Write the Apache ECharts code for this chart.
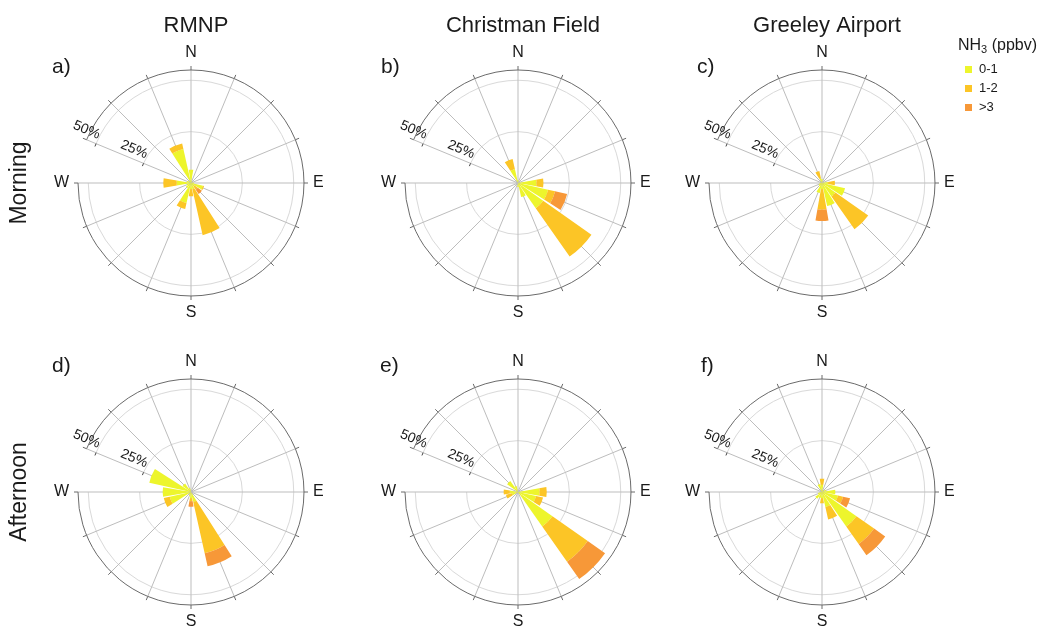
<!DOCTYPE html>
<html>
<head>
<meta charset="utf-8">
<script src="https://cdn.jsdelivr.net/npm/echarts@6/dist/echarts.min.js"></script>
<style>
  html, body { margin: 0; padding: 0; background: #fff; }
  #chart { width: 1047px; height: 628px; }
</style>
</head>
<body>
<div id="chart"></div>
<script>
// 16 compass sectors, clockwise from north
const directions = ['N','NNE','NE','ENE','E','ESE','SE','SSE','S','SSW','SW','WSW','W','WNW','NW','NNW'];
const cardinalLabels = ['N','E','S','W'];
const classNames = ['0-1', '1-2', '>3'];
const classColors = ['#EDF52C', '#FCC526', '#F79838'];
const sites = ['RMNP', 'Christman Field', 'Greeley Airport'];
const periods = ['Morning', 'Afternoon'];
const panelLetters = ['a)', 'b)', 'c)', 'd)', 'e)', 'f)'];
const radiusTicks = [25, 50];
const radiusMax = 55;

// Frequency of wind direction (%) split by NH3 class; order follows `directions`
//                      N   NNE NE ENE  E    ESE  SE   SSE  S    SSW  SW  WSW  W    WNW  NW  NNW
const rmnpMorningLow  = [6.5, 1, 0, 0, 1.5, 6,   2,   3,   3,   10,  3,  2,   7,   2,   0,  17];
const rmnpMorningMid  = [0,   0, 0, 0, 0,   0.5, 2,   23,  3.5, 3,   0,  0,   6.5, 0,   0,  2.7];
const rmnpMorningHigh = [0,   0, 0, 0, 0,   0,   2.5, 0,   0,   0,   0,  0,   0,   0,   0,  0];

const cfMorningLow    = [1.5, 0, 0, 0, 9,   15,  15,  7,   2,   0,   0,  0,   0,   0,   0,  7];
const cfMorningMid    = [0,   0, 0, 0, 3.4, 3.5, 28.7,0,   0,   0,   0,  0,   0,   0,   0,  5];
const cfMorningHigh   = [0,   0, 0, 0, 0,   6,   0,   0,   0,   0,   0,  0,   0,   0,   0,  0];

const gaMorningLow    = [2,   0, 0, 0, 3,   11.5,8,   11.5,3,   5,   2,  1.5, 1,   0,   0,  2.5];
const gaMorningMid    = [0,   0, 0, 0, 3.3, 0,   19.5,0,   10,  0,   0,  0,   0,   0,   0,  3.5];
const gaMorningHigh   = [0,   0, 0, 0, 0,   0,   0,   0,   5.5, 0,   0,  0,   0,   0,   0,  0];

const rmnpAfternoonLow  = [0, 0, 0, 0, 0,   0,   0,   5,   3,   2,   0,  10.6,13.8,20.8,5,  2];
const rmnpAfternoonMid  = [0, 0, 0, 0, 0,   0,   0,   25.5,1.5, 0,   0,  3,   0,   0,   0,  0];
const rmnpAfternoonHigh = [0, 0, 0, 0, 0,   0,   0,   6.5, 2.7, 0,   0,  0,   0,   0,   0,  0];

const cfAfternoonLow    = [0, 0, 0, 0, 10.5,9,   20.5,0,   0,   0,   0,  3,   4,   0,   6.5,3];
const cfAfternoonMid    = [0, 0, 0, 0, 3.5, 3.5, 21,  0,   0,   0,   0,  3,   3,   0,   0,  0];
const cfAfternoonHigh   = [0, 0, 0, 0, 0,   0,   10.3,0,   0,   0,   0,  0,   0,   0,   0,  0];

const gaAfternoonLow    = [3.5, 1, 0, 2, 6.5, 8,   20.5,7.5, 3,   3,   4,  2,   1,   0,   0,  4];
const gaAfternoonMid    = [3,   0, 0, 0, 0,   2.5, 10.5,6.2, 2.5, 0,   0,  0,   0,   0,   0,  0];
const gaAfternoonHigh   = [0,   0, 0, 0, 0,   3.5, 6.6, 0,   0,   0,   0,  0,   0,   0,   0,  0];

const panels = [
  [rmnpMorningLow, rmnpMorningMid, rmnpMorningHigh],
  [cfMorningLow, cfMorningMid, cfMorningHigh],
  [gaMorningLow, gaMorningMid, gaMorningHigh],
  [rmnpAfternoonLow, rmnpAfternoonMid, rmnpAfternoonHigh],
  [cfAfternoonLow, cfAfternoonMid, cfAfternoonHigh],
  [gaAfternoonLow, gaAfternoonMid, gaAfternoonHigh]
];

// layout
const FONT = 'Liberation Sans, Arial, sans-serif';
const colX = [191, 518, 822];
const rowY = [183, 492];
const roseRadius = 113;

// The radius axis is drawn along the first category, so the sector list
// starts at WNW (where the % labels sit) and runs clockwise from there.
const firstSector = directions.indexOf('WNW');
const rotate = arr => arr.slice(firstSector).concat(arr.slice(0, firstSector));
const orderedDirections = rotate(directions);
const startAngle = 90 + (360 - firstSector * 22.5); // 157.5 deg for WNW

const polar = [], angleAxis = [], radiusAxis = [], series = [];
panels.forEach((classes, i) => {
  const cx = colX[i % 3], cy = rowY[Math.floor(i / 3)];
  polar.push({ center: [cx, cy], radius: [0, roseRadius] });
  angleAxis.push({
    polarIndex: i,
    type: 'category',
    data: orderedDirections,
    boundaryGap: false,
    startAngle: startAngle % 360,
    clockwise: true,
    axisLine: { show: true, lineStyle: { color: '#6b6b6b', width: 1 } },
    axisTick: { show: true, inside: false, length: 4, interval: 0, lineStyle: { color: '#6b6b6b' } },
    axisLabel: {
      interval: 0,
      margin: 9,
      fontSize: 16,
      fontFamily: FONT,
      color: '#1a1a1a',
      formatter: v => cardinalLabels.includes(v) ? v : ''
    },
    splitLine: { show: true, interval: 0, lineStyle: { color: '#bdbdbd', width: 1 } }
  });
  radiusAxis.push({
    polarIndex: i,
    type: 'value',
    min: 0,
    max: radiusMax,
    interval: 25,
    axisLine: { show: false },
    axisTick: { show: true, length: 3, customValues: radiusTicks, lineStyle: { color: '#444' } },
    axisLabel: {
      customValues: radiusTicks,
      formatter: '{value}%',
      rotate: -22.5,
      align: 'right',
      verticalAlign: 'bottom',
      margin: 2,
      padding: [0, 0, 4, 0],
      fontSize: 14,
      fontFamily: FONT,
      color: '#1a1a1a'
    },
    splitLine: { show: true, lineStyle: { color: '#d9d9d9', width: 1 } }
  });
  classes.forEach((vals, k) => {
    series.push({
      type: 'bar',
      coordinateSystem: 'polar',
      polarIndex: i,
      name: classNames[k],
      stack: 'rose' + i,
      data: rotate(vals),
      barCategoryGap: '12%',
      itemStyle: { color: classColors[k] },
      silent: true,
      animation: false
    });
  });
});

const titles = sites.map((s, j) => ({
  text: s,
  left: colX[j],
  top: 10,
  textAlign: 'center',
  textStyle: { fontSize: 22, fontWeight: 'normal', color: '#1a1a1a', fontFamily: FONT }
}));

const letterPos = [[52, 57], [381, 57], [697, 57], [52, 356], [380, 356], [701, 356]];
const graphics = panelLetters.map((t, i) => ({
  type: 'text',
  left: letterPos[i][0],
  top: letterPos[i][1],
  style: { text: t, fill: '#1a1a1a', font: '21px ' + FONT }
}));
periods.forEach((p, r) => {
  graphics.push({
    type: 'text',
    x: 20,
    y: rowY[r],
    rotation: Math.PI / 2,
    style: { text: p, font: '23px ' + FONT, fill: '#1a1a1a', align: 'center', verticalAlign: 'middle' }
  });
});
graphics.push({
  type: 'text',
  left: 958,
  top: 38,
  style: {
    text: 'NH{sub|3} (ppbv)',
    font: '16px ' + FONT,
    fill: '#1a1a1a',
    rich: { sub: { font: '11px ' + FONT, verticalAlign: 'bottom', padding: [7, 0, 0, 0], fill: '#1a1a1a' } }
  }
});

const chart = echarts.init(document.getElementById('chart'), null, { renderer: 'canvas' });
chart.setOption({
  animation: false,
  backgroundColor: '#fff',
  title: titles,
  polar,
  angleAxis,
  radiusAxis,
  series,
  legend: {
    data: classNames,
    orient: 'vertical',
    left: 960,
    top: 58,
    icon: 'rect',
    itemWidth: 7,
    itemHeight: 7,
    itemGap: 6,
    selectedMode: false,
    textStyle: { fontSize: 13, color: '#1a1a1a', fontFamily: FONT, padding: [0, 0, 0, 2] }
  },
  graphic: graphics
});
</script>
</body>
</html>
